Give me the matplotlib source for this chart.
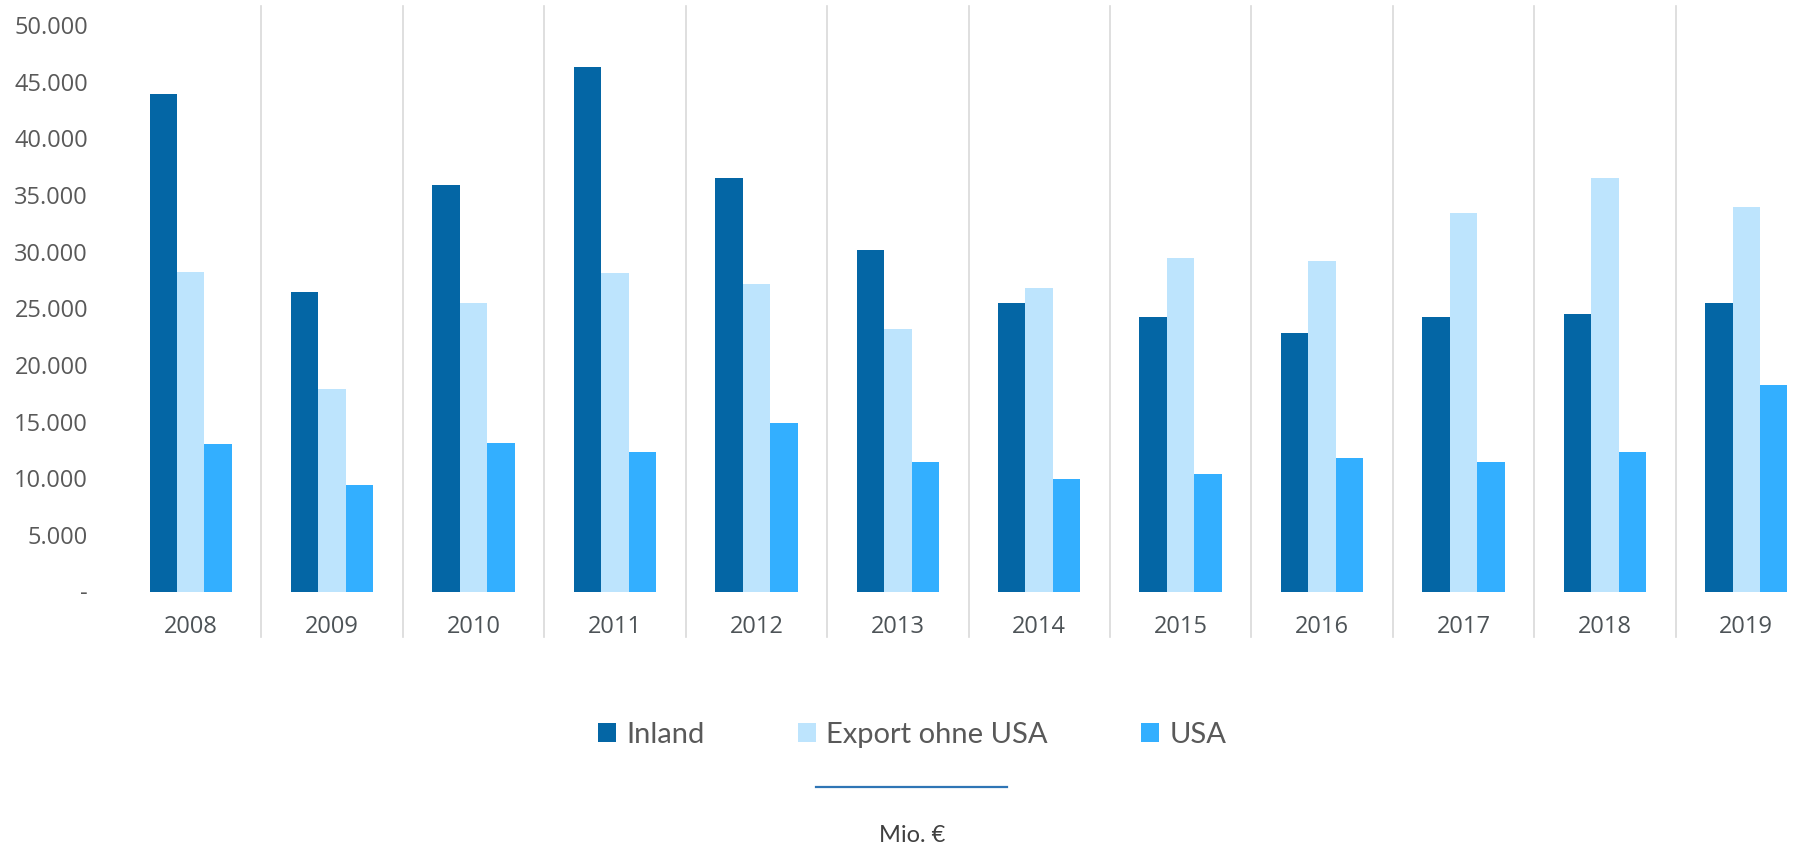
import matplotlib
matplotlib.use("Agg")
import matplotlib.pyplot as plt
from matplotlib.lines import Line2D
from matplotlib.ticker import FuncFormatter
import numpy as np

years = ["2008", "2009", "2010", "2011", "2012", "2013", "2014", "2015", "2016", "2017", "2018", "2019"]
inland = [43900, 26400, 35900, 46300, 36500, 30100, 25500, 24200, 22800, 24200, 24500, 25500]
export_ohne_usa = [28200, 17900, 25500, 28100, 27100, 23200, 26800, 29400, 29200, 33400, 36500, 33900]
usa = [13000, 9400, 13100, 12300, 14900, 11400, 9900, 10400, 11800, 11400, 12300, 18200]
series_names = ["Inland", "Export ohne USA", "USA"]
colors = ["#0466A5", "#BDE4FD", "#33AFFF"]
yticks = [0, 5000, 10000, 15000, 20000, 25000, 30000, 35000, 40000, 45000, 50000]

W, H = 1794, 850
fig = plt.figure(figsize=(W / 100, H / 100), dpi=100)
ax = fig.add_axes([120 / W, 1 - 591.5 / H, 1697 / W, (591.5 - 25) / H])

x = np.arange(len(years))
bw = 0.194
for k, (vals, name, c) in enumerate(zip([inland, export_ohne_usa, usa], series_names, colors)):
    ax.bar(x + (k - 1) * bw, vals, width=bw, color=c, label=name, zorder=2)

ax.set_xlim(-0.5, len(years) - 0.5)
ax.set_ylim(0, 50000)

# category separators
for xs in np.arange(0.5, len(years) - 0.5, 1.0):
    ax.plot([xs, xs], [-4000, 51700], color="#D9D9D9", lw=1.2, clip_on=False, zorder=1)

for s in ax.spines.values():
    s.set_visible(False)

ax.set_yticks(yticks)
ax.yaxis.set_major_formatter(FuncFormatter(lambda v, p: "-" if v == 0 else f"{int(v):,}".replace(",", ".")))
ax.tick_params(axis="y", length=0, pad=23, labelsize=17, labelcolor="#595959")
for t in ax.get_yticklabels():
    t.set_fontfamily("Open Sans")
ax.set_xticks(x)
ax.set_xticklabels(years)
ax.tick_params(axis="x", length=0, pad=17, labelsize=17, labelcolor="#4D5357")
for t in ax.get_xticklabels():
    t.set_fontfamily("Open Sans")

leg = fig.legend(loc="center", bbox_to_anchor=(912 / W, 1 - 735 / H), ncol=3, frameon=False,
                 prop={"family": "Lato", "size": 21}, handlelength=0.62, handleheight=0.62,
                 handletextpad=0.35, columnspacing=3.2, labelcolor="#595959")

fig.add_artist(Line2D([816 / W, 1007 / W], [1 - 787 / H, 1 - 787 / H], color="#2F75B5", lw=1.6))
fig.text(912 / W, 1 - 836 / H, "Mio. €", ha="center", va="center", fontsize=17, family="Lato", color="#404040")

fig.savefig("out.png", dpi=100)
